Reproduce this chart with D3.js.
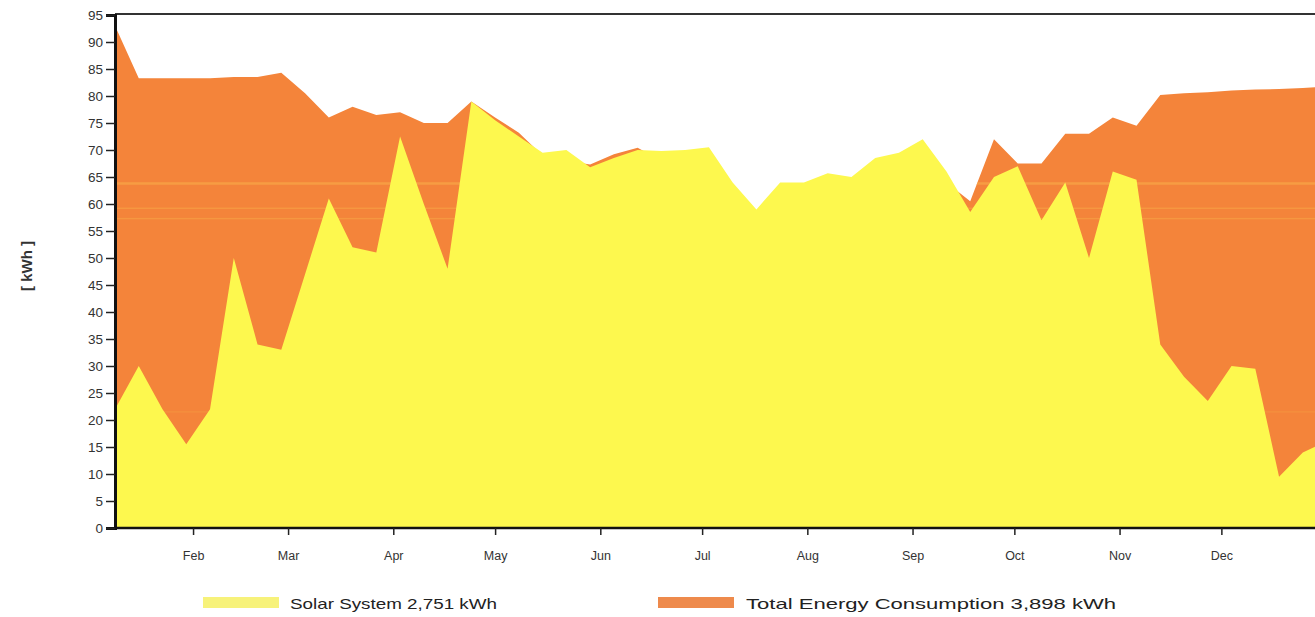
<!DOCTYPE html>
<html>
<head>
<meta charset="utf-8">
<script src="https://cdn.jsdelivr.net/npm/d3@7"></script>
<style>
  body { margin: 0; background: #fff; }
  svg { display: block; font-family: "Liberation Sans", Arial, sans-serif; }
</style>
</head>
<body>
<svg width="1315" height="617"></svg>
<script>
// weekly values, kWh
const solar = [22, 30, 22, 15.5, 22, 50, 34, 33, 47, 61, 52, 51, 72.5, 60, 48, 79,
  75.5, 72.5, 69.5, 70, 66.8, 68.5, 70, 69.8, 70, 70.5, 64, 59, 64, 64, 65.7, 65,
  68.5, 69.5, 72, 66, 58.5, 65, 67, 57, 64, 50, 66, 64.5, 34, 28, 23.5, 30,
  29.5, 9.5, 14, 16];
const consumption = [93, 83.3, 83.3, 83.3, 83.3, 83.5, 83.5, 84.3, 80.5, 76, 78, 76.5, 77, 75, 75, 79,
  76, 73.2, 69, 68, 67.3, 69.2, 70.4, 68, 69, 69, 63, 58, 63, 63, 64, 64,
  67, 68, 70, 64, 60.5, 72, 67.5, 67.5, 73, 73, 76, 74.5, 80.2, 80.5, 80.7, 81,
  81.2, 81.3, 81.5, 81.7];
const yTicks = [0, 5, 10, 15, 20, 25, 30, 35, 40, 45, 50, 55, 60, 65, 70, 75, 80, 85, 90, 95];
const legendLabels = ["Solar System 2,751 kWh", "Total Energy Consumption 3,898 kWh"];

const firstWeek = new Date(2019, 0, 9);
const dates = solar.map((d, i) => d3.timeDay.offset(firstWeek, 7 * i));

var svg = d3.select("svg");
var plotL = 115, plotR = 1315, plotT = 15, plotB = 528;

var x = d3.scaleTime()
    .domain([new Date(2019, 0, 9), new Date(2019, 11, 28)])
    .range([plotL, 1313]);
var y = d3.scaleLinear().domain([0, 95]).range([plotB, plotT]);

svg.append("clipPath").attr("id", "plot")
  .append("rect")
    .attr("x", plotL).attr("y", plotT)
    .attr("width", plotR - plotL).attr("height", plotB - plotT);

var area = function(vals) {
  return d3.area()
    .x((d, i) => x(dates[i]))
    .y0(y(0))
    .y1(d => y(d))(vals);
};

// clip for the scan stripes: only inside the orange area
svg.append("clipPath").attr("id", "orangeClip")
  .append("path").attr("d", area(consumption));

var g = svg.append("g").attr("clip-path", "url(#plot)");

g.append("path")
  .attr("d", area(consumption))
  .attr("fill", "#f4843a");

// faint scan stripes in the orange
var stripes = g.append("g").attr("clip-path", "url(#orangeClip)");
[[63.8, 2.5, 0.55], [59.2, 1.5, 0.45], [57.3, 1.5, 0.45], [21.5, 1.2, 0.3]].forEach(function(s) {
  stripes.append("rect")
    .attr("x", plotL).attr("width", plotR - plotL)
    .attr("y", y(s[0]) - s[1] / 2).attr("height", s[1])
    .attr("fill", "#f9b04a").attr("opacity", s[2]);
});

g.append("path")
  .attr("d", area(solar))
  .attr("fill", "#fdf84e");

// top border
svg.append("line")
  .attr("x1", plotL).attr("x2", plotR)
  .attr("y1", 14).attr("y2", 14)
  .attr("stroke", "#333").attr("stroke-width", 2);

// y axis
var yAxis = svg.append("g")
  .attr("transform", "translate(" + plotL + ",0)")
  .call(d3.axisLeft(y).tickValues(yTicks).tickSize(9).tickPadding(3));
yAxis.select(".domain").attr("stroke", "#111").attr("stroke-width", 3);
yAxis.selectAll(".tick line").attr("stroke", "#222").attr("stroke-width", 1.5);
yAxis.selectAll(".tick text")
  .attr("font-size", "13.5px").attr("fill", "#333");

// x axis
var xAxis = svg.append("g")
  .attr("transform", "translate(0," + plotB + ")")
  .call(d3.axisBottom(x).ticks(d3.timeMonth.every(1)).tickFormat(d3.timeFormat("%b")).tickSize(7).tickPadding(16));
xAxis.select(".domain").attr("stroke", "#111").attr("stroke-width", 2.5).attr("d", "M" + plotL + ",0H" + plotR);
xAxis.selectAll(".tick line").attr("stroke", "#222").attr("stroke-width", 1.5);
xAxis.selectAll(".tick text")
  .attr("font-size", "12.5px").attr("fill", "#333");

// y label
svg.append("text")
  .attr("transform", "translate(32,266) rotate(-90)")
  .attr("text-anchor", "middle")
  .attr("font-size", "15px")
  .attr("font-weight", "bold")
  .attr("fill", "#333")
  .text("[ kWh ]");

// legend
var legend = [
  { label: legendLabels[0], color: "#f7f27a", sx: 203, tx: 290, w: 207 },
  { label: legendLabels[1], color: "#ee8a4c", sx: 658, tx: 746, w: 370 }
];
legend.forEach(function(l) {
  svg.append("rect")
    .attr("x", l.sx).attr("y", 597)
    .attr("width", 76).attr("height", 11)
    .attr("fill", l.color);
  svg.append("text")
    .attr("x", l.tx).attr("y", 609)
    .attr("font-size", "15px")
    .attr("fill", "#222")
    .attr("textLength", l.w)
    .attr("lengthAdjust", "spacingAndGlyphs")
    .text(l.label);
});
</script>
</body>
</html>
